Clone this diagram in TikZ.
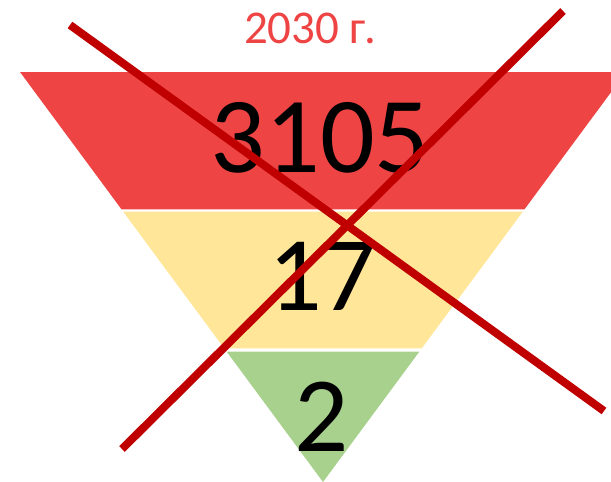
\documentclass[tikz,border=0pt]{standalone}
\usepackage{fontspec}
\setmainfont{Carlito}
\definecolor{bandred}{RGB}{239,68,68}
\definecolor{bandyellow}{RGB}{255,230,153}
\definecolor{bandgreen}{RGB}{169,209,142}
\definecolor{crossred}{RGB}{192,0,0}
\begin{document}
\begin{tikzpicture}[x=1pt,y=-1pt,
  num/.style={anchor=base,text=black,inner sep=0pt},
  cross/.style={draw=crossred,line width=8pt}]
\useasboundingbox (0,0) rectangle (611,482);
\clip (0,0) rectangle (611,482);
% bands
\fill[bandred] (20,72) -- (626,72) -- (524.5,209.3) -- (121.5,209.3) -- cycle;
\fill[bandyellow] (123.2,211.7) -- (522.8,211.7) -- (421.8,348.3) -- (224.2,348.3) -- cycle;
\fill[bandgreen] (226.7,351.7) -- (419.3,351.7) -- (323,482) -- cycle;
% texts
\node[num, text=bandred, font=\fontsize{47}{47}\selectfont] (year) at (310,43) {2030 г.};
\node[num, font=\fontsize{108}{108}\selectfont] (n1) at (320,172) {3105};
\node[num, font=\fontsize{106}{106}\selectfont] (n2) at (322,310) {17};
\node[num, font=\fontsize{107}{107}\selectfont] (n3) at (321.5,451) {2};
% cross
\coordinate (c1s) at (70,25);
\coordinate (c1e) at (604,411);
\coordinate (c2s) at (563,11);
\coordinate (c2e) at (122,449);
\draw[cross] (c1s) -- (c1e);
\draw[cross] (c2s) -- (c2e);
\end{tikzpicture}
\end{document}
